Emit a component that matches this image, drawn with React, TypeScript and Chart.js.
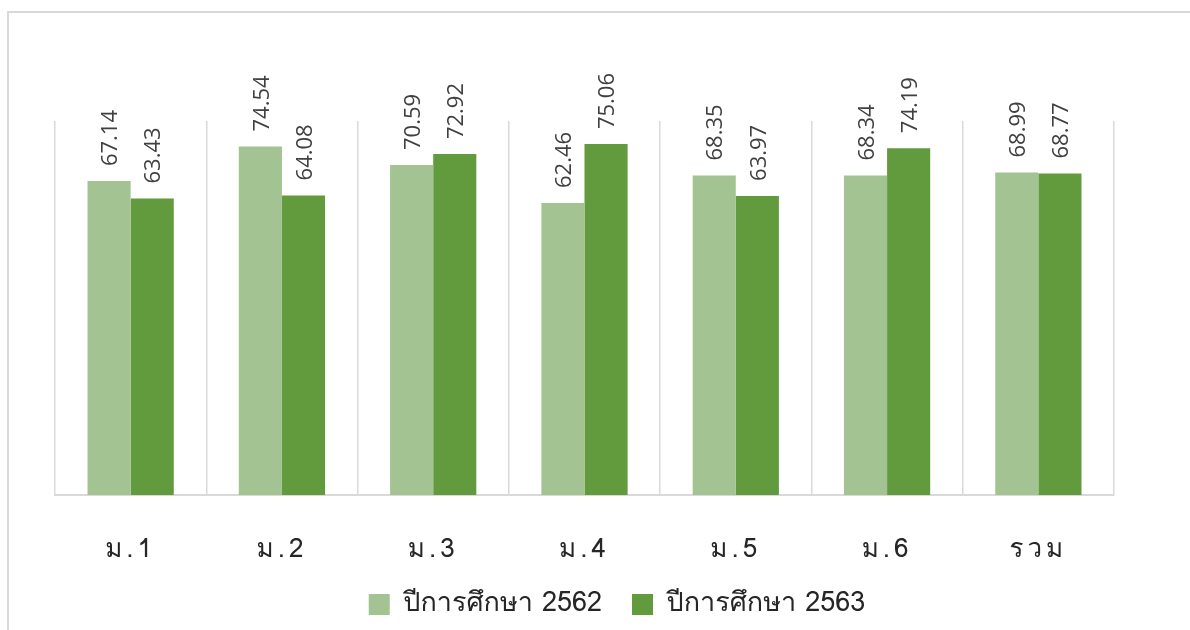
import React, { useEffect, useRef } from "react";
import { Chart, registerables } from "chart.js";

Chart.register(...registerables);

const categories = ["ม.1", "ม.2", "ม.3", "ม.4", "ม.5", "ม.6", "รวม"];
const series2562 = [67.14, 74.54, 70.59, 62.46, 68.35, 68.34, 68.99];
const series2563 = [63.43, 64.08, 72.92, 75.06, 63.97, 74.19, 68.77];
const seriesNames = ["ปีการศึกษา 2562", "ปีการศึกษา 2563"];

const TICK_FONT = "'Tlwg Mono', 'TlwgMono', Loma, 'Noto Sans Thai Looped', 'Noto Sans Thai', 'Noto Sans', sans-serif";
const LEGEND_FONT = "Loma, Garuda, 'Noto Sans Thai Looped', 'Noto Sans Thai', 'Noto Sans', sans-serif";

const borderPlugin = {
  id: "outerBorder",
  beforeDraw(chart: any) {
    const ctx = chart.ctx;
    ctx.save();
    ctx.strokeStyle = "#d9d9d9";
    ctx.lineWidth = 2;
    ctx.beginPath();
    ctx.moveTo(8, chart.height + 5);
    ctx.lineTo(8, 12);
    ctx.lineTo(chart.width + 5, 12);
    ctx.stroke();
    ctx.restore();
  },
};

const tickSpacingPlugin = {
  id: "tickSpacing",
  afterLayout(chart: any) {
    const scale = chart.scales.x;
    if (!scale || scale.__wrapped) return;
    const orig = scale.drawLabels.bind(scale);
    scale.drawLabels = (area: any) => {
      const ctx = chart.ctx;
      ctx.save();
      try {
        (ctx as any).letterSpacing = "4px";
      } catch (e) {}
      orig(area);
      ctx.restore();
    };
    scale.__wrapped = true;
  },
};

const valueLabelPlugin = {
  id: "valueLabels",
  afterDatasetsDraw(chart: any) {
    const ctx = chart.ctx;
    ctx.save();
    ctx.fillStyle = "#404040";
    ctx.font = "22px 'Open Sans', 'Noto Sans', sans-serif";
    ctx.textAlign = "left";
    ctx.textBaseline = "middle";
    chart.data.datasets.forEach((ds: any, i: number) => {
      const meta = chart.getDatasetMeta(i);
      meta.data.forEach((el: any, j: number) => {
        const v = ds.data[j];
        ctx.save();
        ctx.translate(el.x + 2, el.y - 15);
        ctx.rotate(-Math.PI / 2);
        ctx.fillText(Number(v).toFixed(2), 0, 0);
        ctx.restore();
      });
    });
    ctx.restore();
  },
};

export default function App() {
  const ref = useRef<HTMLCanvasElement | null>(null);

  useEffect(() => {
    if (!ref.current) return;
    const chart = new Chart(ref.current, {
      type: "bar",
      data: {
        labels: categories,
        datasets: [
          {
            label: seriesNames[0],
            data: series2562,
            backgroundColor: "#a3c492",
            categoryPercentage: 0.57,
            barPercentage: 1,
          },
          {
            label: seriesNames[1],
            data: series2563,
            backgroundColor: "#629a3e",
            categoryPercentage: 0.57,
            barPercentage: 1,
          },
        ],
      },
      options: {
        animation: false,
        responsive: false,
        devicePixelRatio: 1,
        layout: { padding: { left: 44, right: 0, top: 121, bottom: 2 } },
        scales: {
          y: {
            display: true,
            position: "left",
            min: 0,
            max: 80,
            ticks: { display: false },
            grid: { display: false },
            border: { display: false },
            afterFit(axis: any) {
              axis.width = 11;
            },
          },
          y2: {
            type: "linear",
            display: true,
            position: "right",
            ticks: { display: false },
            grid: { display: false },
            border: { display: false },
            afterFit(axis: any) {
              axis.width = 76;
            },
          },
          x: {
            grid: {
              display: true,
              offset: true,
              color: "#d9d9d9",
              lineWidth: 1.5,
              drawTicks: false,
            },
            border: { display: true, color: "#d9d9d9", width: 2 },
            ticks: {
              color: "#262626",
              padding: 41,
              font: { family: TICK_FONT, size: 26 },
            },
            afterFit(axis: any) {
              axis.height = 66;
            },
          },
        },
        plugins: {
          legend: {
            position: "bottom",
            labels: {
              boxWidth: 21,
              boxHeight: 21,
              padding: 30,
              color: "#262626",
              font: { family: LEGEND_FONT, size: 27 },
            },
          },
          tooltip: { enabled: false },
        },
      },
      plugins: [borderPlugin, tickSpacingPlugin, valueLabelPlugin],
    });
    return () => chart.destroy();
  }, []);

  return (
    <div style={{ position: "fixed", left: 0, top: 0, width: 1190, height: 630, background: "#fff" }}>
      <canvas ref={ref} width={1190} height={630} style={{ display: "block" }} />
    </div>
  );
}
